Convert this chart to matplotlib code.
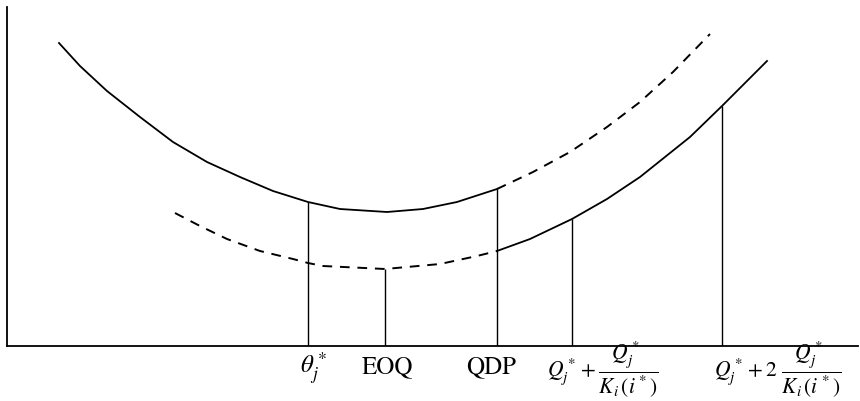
import matplotlib.pyplot as plt

plt.rcParams['font.family'] = 'STIXGeneral'
plt.rcParams['mathtext.fontset'] = 'stix'

# total cost under the old price (upper) and the discounted price (lower)
q_upper_solid = [52, 73, 100, 133, 166, 200, 233, 266, 301, 333, 380, 416, 450, 490]
cost_upper_solid = [303, 280, 255, 229, 204, 184, 169, 155, 144, 137, 134, 137, 144, 157]
q_upper_dashed = [490, 526, 563, 600, 633, 666, 703]
cost_upper_dashed = [157, 174, 194, 219, 244, 274, 312]

q_lower_dashed = [168, 193, 220, 253, 286, 301, 316, 378, 433, 470, 490]
cost_lower_dashed = [133, 120, 107, 95, 87, 83, 80, 77, 82, 90, 95]
q_lower_solid = [490, 523, 565, 600, 633, 683, 715, 760]
cost_lower_solid = [95, 107, 127, 147, 169, 209, 240, 285]

# marked order quantities and the cost at each one
q_marks = [301, 378, 490, 565, 715]
cost_marks = [144, 77, 157, 127, 240]
mark_labels = [
    r'$\theta_j^*$',
    'EOQ',
    'QDP',
    r'$Q_j^* + \dfrac{Q_j^*}{K_i\,(i^*)}$',
    r'$Q_j^* + 2\ \dfrac{Q_j^*}{K_i\,(i^*)}$',
]
label_shift = [(4, -19), (2, -19), (-4, -19), (22, -21.5), (40, -21.5)]
label_size = [18, 18, 18, 15.5, 15.5]

fig = plt.figure(figsize=(8.6, 4.02), dpi=100)
ax = fig.add_axes([7 / 860, 55 / 402, 851 / 860, 339 / 402])

dash = (0, (5, 4))
ax.plot(q_upper_solid, cost_upper_solid, color='black', lw=1.3)
ax.plot(q_upper_dashed, cost_upper_dashed, color='black', lw=1.4, linestyle=dash)
ax.plot(q_lower_dashed, cost_lower_dashed, color='black', lw=1.4, linestyle=dash)
ax.plot(q_lower_solid, cost_lower_solid, color='black', lw=1.3)

ax.vlines(q_marks, 0, cost_marks, color='black', lw=1.0)

for q, text, (dx, dy), size in zip(q_marks, mark_labels, label_shift, label_size):
    ax.annotate(text, xy=(q, 0), xytext=(dx, dy), textcoords='offset points',
                ha='center', va='baseline', fontsize=size)

ax.set_xlim(0, 851)
ax.set_ylim(0, 339)
ax.spines['top'].set_visible(False)
ax.spines['right'].set_visible(False)
ax.spines['left'].set_linewidth(1.3)
ax.spines['bottom'].set_linewidth(1.3)
ax.set_xticks([])
ax.set_yticks([])

fig.savefig('out.png', dpi=100)
